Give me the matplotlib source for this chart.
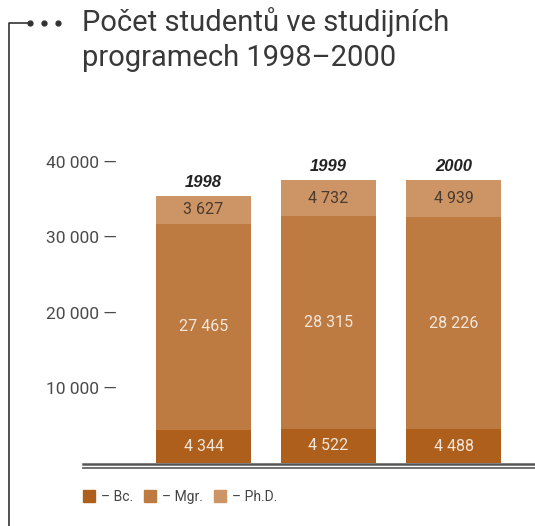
import matplotlib.pyplot as plt
from matplotlib.lines import Line2D
from matplotlib.patches import Patch

years = ['1998', '1999', '2000']
bc = [4344, 4522, 4488]
mgr = [27465, 28315, 28226]
phd = [3627, 4732, 4939]
yticks = [10000, 20000, 30000, 40000]
ytick_labels = ['10 000 —', '20 000 —', '30 000 —', '40 000 —']

c_bc = '#ad5f1b'
c_mgr = '#bd7a41'
c_phd = '#cd9566'

plt.rcParams['font.family'] = ['Roboto', 'DejaVu Sans']

W, H = 535, 526
fig = plt.figure(figsize=(W / 100, H / 100), dpi=100)

# axes in pixel layout: x 83..535, y 162 (40 000) .. 463 (0)
ax = fig.add_axes([83 / W, 1 - 463 / H, (535 - 83) / W, (463 - 162) / H])
x = list(range(len(years)))
w = 0.76
ax.bar(x, bc, w, color=c_bc)
ax.bar(x, mgr, w, bottom=bc, color=c_mgr)
bottom3 = [a + b for a, b in zip(bc, mgr)]
ax.bar(x, phd, w, bottom=bottom3, color=c_phd)

def fmt(v):
    return f'{v:,}'.replace(',', ' ')

for i in x:
    ax.text(i, bc[i] / 2, fmt(bc[i]), ha='center', va='center',
            fontsize=11.5, color='#f3e7dc')
    ax.text(i, bc[i] + mgr[i] / 2, fmt(mgr[i]), ha='center', va='center',
            fontsize=11.5, color='#f3e7dc')
    ax.text(i, bottom3[i] + phd[i] / 2, fmt(phd[i]), ha='center', va='center',
            fontsize=11.5, color='#4a3a30')
    ax.text(i, bottom3[i] + phd[i] + 1800, years[i], ha='center', va='center',
            fontsize=12, fontweight='bold', fontstyle='italic', color='#222222',
            family='Liberation Sans')

ax.set_xlim(-0.964, 2.652)
ax.set_ylim(0, 40000)
ax.set_yticks(yticks)
ax.set_yticklabels(ytick_labels, fontsize=12.5, color='#4a4a4a')
ax.tick_params(axis='y', length=0, pad=-24.5)
ax.set_xticks([])
for s in ax.spines.values():
    s.set_visible(False)
ax.patch.set_alpha(0)

# double baseline
fig.add_artist(Line2D([83 / W, 1], [1 - 464 / H] * 2, color='#555555', lw=1.8))
fig.add_artist(Line2D([83 / W, 1], [1 - 468 / H] * 2, color='#666666', lw=1.3))

# frame line with dots
fig.add_artist(Line2D([8.5 / W, 8.5 / W, 29 / W], [0, 1 - 23 / H, 1 - 23 / H],
                      color='#333333', lw=1.2))
fig.add_artist(Line2D([30 / W, 44 / W, 58 / W], [1 - 23 / H] * 3, ls='none',
                      marker='o', ms=3.5, color='#333333'))

fig.text(82 / W, 1 - 31 / H, 'Počet studentů ve studijních',
         ha='left', va='baseline', fontsize=21, color='#383838')
fig.text(82 / W, 1 - 66 / H, 'programech 1998–2000',
         ha='left', va='baseline', fontsize=21, color='#383838')

handles = [Patch(color=c_bc), Patch(color=c_mgr), Patch(color=c_phd)]
fig.legend(handles, ['– Bc.', '– Mgr.', '– Ph.D.'], loc='center left',
           bbox_to_anchor=(70 / W, 1 - 497 / H), ncol=3, frameon=False,
           handlelength=0.9, handleheight=0.9, handletextpad=0.4,
           columnspacing=0.8, fontsize=10, labelcolor='#444444')

fig.savefig('out.png', dpi=100)
